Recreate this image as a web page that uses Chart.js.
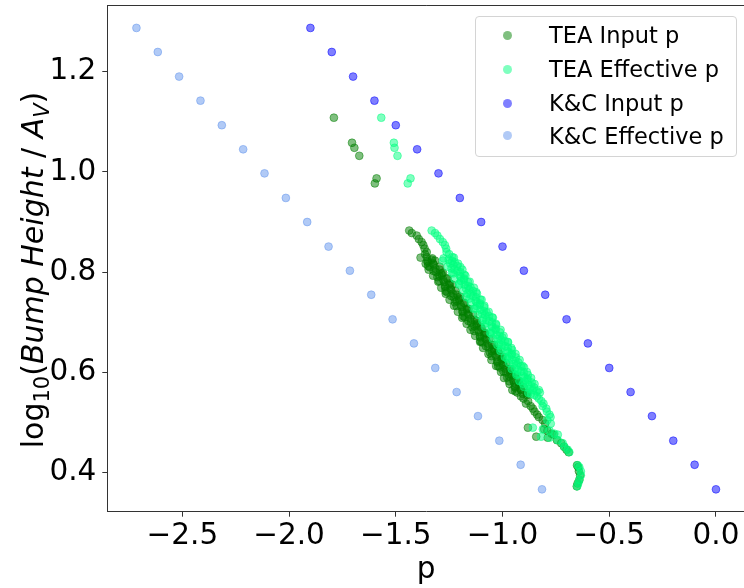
<!DOCTYPE html>
<html>
<head>
<meta charset="utf-8">
<script src="https://cdn.jsdelivr.net/npm/chart.js@4"></script>
<style>
  html, body { margin: 0; padding: 0; background: #fff; overflow: hidden; }
  #wrap { position: relative; width: 744px; height: 588px; overflow: hidden; }
  canvas { position: absolute; left: 0; top: 0; }
  #ylabel {
    position: absolute; left: -267px; top: 250px; width: 600px; height: 40px; line-height: 40px;
    text-align: center; transform: rotate(-90deg);
    white-space: nowrap; font-family: "DejaVu Sans"; font-size: 30px; color: #000;
  }
  #ylabel .sub { font-size: 70%; position: relative; top: 0.3em; }
  #legend {
    position: absolute; left: 475px; top: 16px; width: 260px; height: 139px;
    border: 1px solid #d4d4d4; border-radius: 4px; background: rgba(255,255,255,0.8);
    font-family: "DejaVu Sans"; font-size: 22.5px; color: #000;
  }
  .row { position: absolute; left: 0; height: 34px; display: flex; align-items: center; }
  .dot { position: absolute; left: 27px; width: 9px; height: 9px; border-radius: 50%; }
  .txt { position: absolute; left: 73px; white-space: nowrap; }
</style>
</head>
<body>
<div id="wrap">
  <canvas id="chart" width="750" height="588"></canvas>
  <div id="ylabel">log<span class="sub">10</span>(<i>Bump Height</i> / <i>A<span class="sub">V</span></i>)</div>
  <div id="legend"></div>
</div>
<script>
// K&C points: input p, effective p, log10 bump height
const kcInputP = [-1.9, -1.8, -1.7, -1.6, -1.5, -1.4, -1.3, -1.2, -1.1, -1.0,
  -0.9, -0.8, -0.7, -0.6, -0.5, -0.4, -0.3, -0.2, -0.1, 0.0];
const kcEffectiveP = [-2.715, -2.615, -2.515, -2.415, -2.315, -2.215, -2.115, -2.015, -1.915, -1.815,
  -1.715, -1.615, -1.515, -1.415, -1.315, -1.215, -1.115, -1.015, -0.915, -0.815];
const kcLogHeight = [1.287, 1.239, 1.190, 1.142, 1.093, 1.045, 0.997, 0.948, 0.900, 0.851,
  0.803, 0.755, 0.706, 0.658, 0.609, 0.561, 0.513, 0.464, 0.416, 0.367];

// TEA points (same bump height for input / effective p)
const teaLogHeight = [
  1.108, 1.058, 1.048, 1.032, 0.987, 0.977,
  0.883, 0.878, 0.873, 0.866, 0.860, 0.854, 0.847, 0.840, 0.836,
  0.830, 0.825, 0.820, 0.815, 0.810, 0.805, 0.800, 0.795, 0.790, 0.785,
  0.780, 0.775, 0.770, 0.765, 0.760, 0.755, 0.750, 0.745, 0.740, 0.735,
  0.730, 0.725, 0.720, 0.715, 0.710, 0.705, 0.700, 0.695, 0.690, 0.685,
  0.680, 0.675, 0.670, 0.665, 0.660, 0.655, 0.650, 0.645, 0.640, 0.635,
  0.630, 0.625, 0.620, 0.615, 0.610, 0.605, 0.600, 0.595, 0.590, 0.585,
  0.580, 0.575, 0.570, 0.565, 0.560, 0.555,
  0.8275, 0.8225, 0.8175, 0.8125, 0.8075, 0.8025, 0.7975, 0.7925, 0.7875, 0.7825,
  0.7775, 0.7725, 0.7675, 0.7625, 0.7575, 0.7525, 0.7475, 0.7425, 0.7375, 0.7325,
  0.7275, 0.7225, 0.7175, 0.7125, 0.7075, 0.7025, 0.6975, 0.6925, 0.6875, 0.6825,
  0.6775, 0.6725, 0.6675, 0.6625, 0.6575, 0.6525, 0.6475, 0.6425, 0.6375, 0.6325,
  0.6275, 0.6225, 0.6175, 0.6125, 0.6075, 0.6025, 0.5975, 0.5925, 0.5875, 0.5825,
  0.5775, 0.5725, 0.5675, 0.5625, 0.5575, 0.5525,
  0.829, 0.823, 0.817, 0.811, 0.805, 0.799, 0.793, 0.787, 0.781, 0.775,
  0.769, 0.763, 0.757, 0.751, 0.745, 0.739, 0.733, 0.727, 0.721, 0.715,
  0.709, 0.703, 0.697, 0.691, 0.685, 0.679, 0.673, 0.667, 0.661, 0.655,
  0.649, 0.643, 0.637, 0.631, 0.625, 0.619, 0.613, 0.607, 0.601, 0.595,
  0.589, 0.583, 0.577, 0.571, 0.565, 0.559,
  0.548, 0.543, 0.538, 0.533, 0.528, 0.522, 0.516, 0.511, 0.505, 0.498,
  0.490, 0.487, 0.484, 0.478, 0.476, 0.472, 0.470, 0.465, 0.459, 0.452,
  0.446, 0.441, 0.415, 0.411, 0.403, 0.395, 0.386, 0.379, 0.373
];
const teaInputP = [
  -1.790, -1.705, -1.694, -1.671, -1.590, -1.598,
  -1.437, -1.425, -1.402, -1.392, -1.379, -1.371, -1.365, -1.355, -1.363,
  -1.355, -1.332, -1.351, -1.323, -1.341, -1.294, -1.311, -1.286, -1.305, -1.278,
  -1.273, -1.250, -1.269, -1.241, -1.259, -1.213, -1.229, -1.204, -1.223, -1.196,
  -1.192, -1.168, -1.187, -1.159, -1.177, -1.131, -1.148, -1.122, -1.141, -1.114,
  -1.110, -1.087, -1.105, -1.077, -1.095, -1.049, -1.066, -1.041, -1.059, -1.032,
  -1.028, -1.005, -1.024, -0.996, -1.013, -0.967, -0.984, -0.959, -0.978, -0.950,
  -0.946, -0.923, -0.942, -0.914, -0.931, -0.885,
  -1.329, -1.351, -1.325, -1.349, -1.314, -1.323, -1.285, -1.296, -1.261, -1.297,
  -1.247, -1.269, -1.243, -1.267, -1.233, -1.241, -1.203, -1.214, -1.179, -1.215,
  -1.166, -1.187, -1.161, -1.185, -1.151, -1.160, -1.121, -1.132, -1.097, -1.133,
  -1.084, -1.106, -1.079, -1.103, -1.069, -1.078, -1.040, -1.050, -1.015, -1.051,
  -1.002, -1.024, -0.998, -1.021, -0.987, -0.996, -0.958, -0.969, -0.934, -0.969,
  -0.920, -0.942, -0.916, -0.940, -0.905, -0.914,
  -1.384, -1.316, -1.360, -1.294, -1.346, -1.279, -1.325, -1.257, -1.301, -1.235,
  -1.287, -1.220, -1.266, -1.198, -1.248, -1.180, -1.227, -1.159, -1.209, -1.137,
  -1.189, -1.121, -1.168, -1.102, -1.150, -1.082, -1.128, -1.061, -1.105, -1.039,
  -1.091, -1.021, -1.066, -1.000, -1.052, -0.984, -1.030, -0.962, -1.007, -0.941,
  -0.993, -0.923, -0.967, -0.901, -0.954, -0.886,
  -0.902, -0.880, -0.890, -0.868, -0.858, -0.850, -0.838, -0.830, -0.812, -0.800,
  -0.881, -0.805, -0.790, -0.770, -0.760, -0.842, -0.788, -0.745, -0.725, -0.712,
  -0.700, -0.690, -0.651, -0.645, -0.642, -0.636, -0.640, -0.648, -0.652
];
const teaEffectiveP = [
  -1.568, -1.509, -1.506, -1.492, -1.431, -1.444,
  -1.332, -1.316, -1.305, -1.293, -1.280, -1.270, -1.264, -1.262, -1.250,
  -1.235, -1.252, -1.224, -1.231, -1.197, -1.224, -1.198, -1.179, -1.195, -1.181,
  -1.161, -1.177, -1.150, -1.156, -1.123, -1.149, -1.124, -1.104, -1.121, -1.106,
  -1.086, -1.103, -1.075, -1.082, -1.048, -1.075, -1.049, -1.030, -1.046, -1.032,
  -1.012, -1.028, -1.001, -1.007, -0.974, -1.000, -0.975, -0.955, -0.972, -0.957,
  -0.937, -0.954, -0.926, -0.933, -0.899, -0.926, -0.900, -0.881, -0.897, -0.883,
  -0.863, -0.879, -0.852, -0.858, -0.825, -0.851,
  -1.276, -1.237, -1.245, -1.212, -1.239, -1.211, -1.230, -1.200, -1.181, -1.195,
  -1.202, -1.162, -1.171, -1.138, -1.164, -1.137, -1.155, -1.126, -1.106, -1.121,
  -1.127, -1.088, -1.096, -1.063, -1.090, -1.062, -1.081, -1.051, -1.032, -1.046,
  -1.053, -1.013, -1.022, -0.989, -1.015, -0.988, -1.006, -0.977, -0.957, -0.972,
  -0.978, -0.939, -0.947, -0.914, -0.941, -0.913, -0.932, -0.902, -0.883, -0.897,
  -0.904, -0.864, -0.873, -0.840, -0.866, -0.839,
  -1.228, -1.279, -1.208, -1.257, -1.188, -1.237, -1.174, -1.225, -1.154, -1.203,
  -1.134, -1.183, -1.120, -1.171, -1.098, -1.147, -1.085, -1.135, -1.065, -1.114,
  -1.045, -1.094, -1.031, -1.082, -1.009, -1.058, -0.995, -1.046, -0.975, -1.024,
  -0.959, -1.010, -0.939, -0.989, -0.920, -0.969, -0.906, -0.957, -0.886, -0.935,
  -0.866, -0.921, -0.850, -0.899, -0.830, -0.879,
  -0.830, -0.818, -0.808, -0.812, -0.795, -0.792, -0.780, -0.775, -0.790, -0.774,
  -0.858, -0.811, -0.780, -0.757, -0.741, -0.819, -0.780, -0.741, -0.718, -0.710,
  -0.695, -0.687, -0.648, -0.640, -0.633, -0.633, -0.640, -0.645, -0.650
];

const xTicks = [-2.5, -2.0, -1.5, -1.0, -0.5, 0.0];
const yTicks = [0.4, 0.6, 0.8, 1.0, 1.2];

const seriesNames = ["TEA Input p", "TEA Effective p", "K&C Input p", "K&C Effective p"];
const seriesColors = ["rgba(0,128,0,0.5)", "rgba(0,255,127,0.5)", "rgba(0,0,255,0.5)", "rgba(100,149,237,0.5)"];

const toPoints = (xs, ys) => xs.map((x, i) => ({ x: x, y: ys[i] }));
const fmt = (v) => (Math.abs(v) < 1e-9 ? "0.0" : (v < 0 ? "\u2212" : "") + Math.abs(v).toFixed(1));

const pointSets = [
  toPoints(teaInputP, teaLogHeight),
  toPoints(teaEffectiveP, teaLogHeight),
  toPoints(kcInputP, kcLogHeight),
  toPoints(kcEffectiveP, kcLogHeight),
];

const font = { family: "DejaVu Sans", size: 29.5 };

// top spine, like matplotlib's box
const frame = {
  id: "frame",
  afterDraw(chart) {
    const { ctx, chartArea } = chart;
    ctx.save();
    ctx.strokeStyle = "#333";
    ctx.lineWidth = 1;
    ctx.beginPath();
    ctx.moveTo(chartArea.left, chartArea.top + 0.5);
    ctx.lineTo(chartArea.right, chartArea.top + 0.5);
    ctx.lineTo(chartArea.right - 0.5, chartArea.bottom);
    ctx.stroke();
    ctx.restore();
  },
};

new Chart(document.getElementById("chart"), {
  type: "scatter",
  data: {
    datasets: pointSets.map((pts, i) => ({
      label: seriesNames[i],
      data: pts,
      backgroundColor: seriesColors[i],
      borderColor: seriesColors[i],
      borderWidth: 1,
      pointRadius: 3.9,
      order: 3 - i,
    })),
  },
  options: {
    responsive: false,
    animation: false,
    layout: { padding: { top: 4, right: 2, left: 0, bottom: 0 } },
    plugins: { legend: { display: false }, tooltip: { enabled: false } },
    scales: {
      x: {
        type: "linear",
        min: -2.8515,
        max: 0.136,
        afterFit: (s) => { s.height = 76.3; s.paddingLeft = 0; s.paddingRight = 0; },
        afterBuildTicks: (s) => { s.ticks = xTicks.map((v) => ({ value: v })); },
        ticks: { callback: fmt, color: "#000", font: font, padding: 2, maxRotation: 0, autoSkip: false },
        grid: { drawOnChartArea: false, tickLength: 5, color: "#333" },
        border: { color: "#333" },
        title: { display: true, text: "p", color: "#000", font: font, padding: { top: 0, bottom: 0 } },
      },
      y: {
        type: "linear",
        min: 0.3224,
        max: 1.3327,
        afterFit: (s) => { s.width = 107.3; s.paddingTop = 0; s.paddingBottom = 0; },
        afterBuildTicks: (s) => { s.ticks = yTicks.map((v) => ({ value: v })); },
        ticks: { callback: fmt, color: "#000", font: font, padding: 6, autoSkip: false },
        grid: { drawOnChartArea: false, tickLength: 5, color: "#333" },
        border: { color: "#333" },
      },
    },
  },
  plugins: [frame],
});

// legend box in the upper right, like matplotlib's
const legend = document.getElementById("legend");
const rowTops = [1.2, 35.2, 69.2, 101.8];
seriesNames.forEach((name, i) => {
  const row = document.createElement("div");
  row.className = "row";
  row.style.top = rowTops[i] + "px";
  row.innerHTML = '<span class="dot" style="background:' + seriesColors[i] + '"></span><span class="txt"></span>';
  row.querySelector(".txt").textContent = name;
  legend.appendChild(row);
});
</script>
</body>
</html>
